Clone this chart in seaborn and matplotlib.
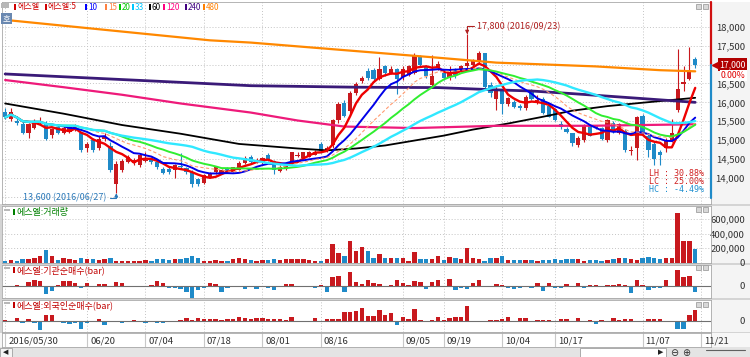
import matplotlib
matplotlib.use("Agg")
import matplotlib.pyplot as plt
from matplotlib.patches import Rectangle
from matplotlib.lines import Line2D
import matplotlib.transforms as mtrans
import numpy as np
import pandas as pd
import seaborn as sns

# ---------------- data ----------------
opens = [15750, 15550, 15500, 15440, 15200, 15330, 15460, 15440, 15130, 15350,
         15200, 15220, 15300, 15180, 14780, 15000, 14800, 15030, 14850, 13850,
         14200, 14430, 14400, 14330, 14460, 14520, 14410, 14250, 14230, 14200,
         14320, 14260, 14150, 13980, 13880, 14030, 14150, 14120, 14250, 14170,
         14220, 14400, 14550, 14430, 14420, 14600, 14450, 14180, 14230, 14400,
         14590, 14530, 14560, 14620, 14900, 14720, 14860, 15520, 15990, 15780,
         16250, 16570, 16830, 16850, 16620, 16950, 16780, 16880, 16670, 16720,
         16780, 17200, 16960, 16450, 16900, 16780, 16680, 16850, 16850, 16950,
         17000, 17100, 17300, 16450, 16100, 16300, 15950, 16000, 15900, 15850,
         16300, 16040, 16100, 15900, 15820, 15440, 15300, 15180, 14860, 15000,
         15390, 15380, 15330, 15000, 15450, 15200, 15250, 14720, 14800, 15650,
         15100, 14900, 14680, 14800, 15000, 15800, 16480, 16620, 17150]
closes = [15600, 15750, 15450, 15200, 15420, 15500, 15480, 15020, 15290, 15200,
          15330, 15350, 15360, 14750, 14900, 14750, 15040, 15080, 14200, 14380,
          14450, 14550, 14470, 14600, 14480, 14420, 14290, 14130, 14150, 14330,
          14280, 14150, 13850, 13830, 14070, 14120, 14280, 14200, 14170, 14280,
          14400, 14540, 14420, 14470, 14520, 14470, 14200, 14300, 14310, 14680,
          14610, 14680, 14690, 14690, 14720, 14800, 15520, 15960, 15650, 16250,
          16490, 16650, 16650, 16620, 16880, 16780, 16880, 16620, 16880, 16950,
          17230, 17000, 16700, 16700, 17020, 16650, 16800, 16720, 16950, 17050,
          17100, 17300, 16400, 16250, 16300, 15950, 16120, 15880, 15850, 16150,
          16100, 16060, 15730, 15620, 15530, 15340, 15220, 14920, 15070, 15390,
          15120, 15330, 15040, 15520, 15250, 15430, 14750, 14740, 15600, 15200,
          14750, 14500, 14600, 15000, 15200, 16350, 16530, 16830, 17000]
highs = [15850, 15850, 15650, 15500, 15450, 15550, 15600, 15500, 15320, 15400,
         15380, 15400, 15420, 15200, 14950, 15050, 15100, 15200, 14950, 14450,
         14500, 14600, 14520, 14650, 14700, 14560, 14450, 14280, 14280, 14380,
         14650, 14300, 14200, 14000, 14100, 14150, 14300, 14250, 14300, 14300,
         14450, 14580, 14600, 14520, 14550, 14650, 14480, 14330, 14350, 14700,
         14700, 14700, 14720, 14750, 14950, 14850, 15550, 16000, 16050, 16300,
         16550, 16700, 16900, 16900, 17200, 17000, 16950, 16900, 16950, 17000,
         17300, 17250, 17000, 17250, 17100, 16850, 16950, 16900, 17000, 17800,
         17150, 17350, 17300, 16550, 16450, 16350, 16150, 16050, 15950, 16200,
         16350, 16200, 16150, 15950, 15850, 15500, 15350, 15200, 15100, 15420,
         15400, 15400, 15350, 15550, 15500, 15450, 15300, 14850, 15650, 15700,
         15150, 14950, 14750, 15050, 15550, 17400, 16950, 17450, 17200]
lows = [15550, 15500, 15400, 15150, 15050, 15300, 15400, 15000, 15050, 15150,
        15150, 15200, 15250, 14700, 14700, 14700, 14750, 14980, 14150, 13600,
        14150, 14400, 14350, 14300, 14420, 14380, 14250, 14100, 14100, 14000,
        14250, 14100, 13750, 13800, 13850, 14000, 14100, 14100, 14150, 14150,
        14200, 14380, 14400, 14400, 14380, 14450, 14100, 14150, 14200, 14380,
        14550, 14500, 14550, 14600, 14650, 14700, 14800, 15450, 15600, 15700,
        16200, 16500, 16600, 16550, 16600, 16700, 16750, 16230, 16600, 16700,
        16750, 16950, 16650, 16400, 16850, 16600, 16600, 16650, 16800, 16900,
        16950, 17050, 16350, 16150, 15800, 15700, 15900, 15850, 15800, 15800,
        16050, 15950, 15700, 15600, 15500, 15300, 15200, 14850, 14820, 14950,
        15100, 15300, 15000, 14950, 15200, 15150, 14700, 14600, 14470, 15150,
        14550, 14350, 14350, 14700, 14950, 15750, 16300, 16600, 16900]
volume_k = [23, 37, 23, 51, 51, 59, 97, 175, 92, 37, 69, 51, 37, 59, 51, 46, 37, 46, 59, 28,
            28, 23, 23, 23, 37, 28, 46, 46, 37, 46, 51, 69, 97, 59, 23, 23, 37, 28, 23, 51,
            69, 46, 37, 23, 37, 37, 46, 37, 46, 55, 51, 55, 37, 28, 23, 51, 252, 138, 97, 299,
            161, 221, 161, 69, 120, 59, 59, 69, 69, 23, 152, 51, 46, 51, 92, 37, 83, 59, 46, 207,
            59, 51, 28, 69, 69, 92, 37, 37, 37, 37, 37, 23, 37, 37, 46, 37, 46, 46, 46, 28,
            37, 37, 23, 37, 46, 59, 59, 51, 37, 59, 73, 59, 51, 59, 69, 690, 299, 299, 184]
inst_k = [-5, -5, 5, -8, 20, 28, 25, -42, -25, 3, 23, 23, 12, -10, 12, -5, 8, 7, -8, 20,
          12, -5, -5, -5, -3, 3, 25, 12, -10, -10, -18, -30, -60, -22, -13, 12, 8, -30, -10, -5,
          -5, -17, -7, -15, -3, -12, -23, -8, 8, 8, -3, -2, -2, -12, 2, -32, 43, 50, -32, 68,
          17, 10, 30, 13, 8, -3, 5, 30, 13, 2, 25, 17, -15, 17, 30, -3, 32, -22, -13, -18,
          15, 28, -3, -5, 7, 2, -13, -18, -10, -8, -10, 12, -25, 12, -13, -13, 7, -5, 12, -13,
          1, 5, -3, 5, 1, 7, 1, -38, 28, 1, -22, -10, -13, 28, -5, 78, 45, 50, -32]
foreign_k = [3, -3, 12, -13, 8, -10, -47, 28, 28, -3, -13, -17, -13, -43, -10, -5, 7, -22, -3, -2,
             -10, -3, 3, -3, -10, -3, -10, -10, -3, -3, 3, 12, 5, 15, 7, 7, 7, 5, 7, 7,
             17, 12, 8, 12, 13, 8, 8, 10, 5, 17, -5, 1, -5, 15, -5, 10, 10, 10, 45, 42,
             50, 63, 22, 22, 55, 30, 38, -20, 17, 10, 58, 5, -3, 5, 18, 5, 12, 20, 20, 73,
             1, -7, -7, 3, 3, 7, 20, -5, 12, 12, -5, 3, 3, 3, -3, 8, 8, -5, 12, -3,
             3, -17, 3, -5, 12, 3, 10, 10, -7, -5, 7, 10, 7, 1, 1, -40, -42, 27, 55]

# long moving averages, read at a few days
ma60_idx = [0, 10, 20, 30, 40, 50, 55, 60, 65, 70, 75, 80, 86, 92, 97, 103, 109, 118]
ma60_val = [15970, 15700, 15400, 15170, 14900, 14780, 14730, 14780, 14860, 14990, 15120,
            15280, 15440, 15620, 15780, 15900, 15990, 16120]
ma120_idx = [0, 10, 20, 30, 42, 50, 58, 70, 84, 100, 118]
ma120_val = [16590, 16400, 16200, 15970, 15730, 15520, 15360, 15320, 15380, 15380, 15420]
ma240_idx = [0, 42, 60, 74, 84, 90, 97, 108, 118]
ma240_val = [16750, 16440, 16400, 16390, 16330, 16300, 16230, 16110, 16000]
ma480_idx = [0, 35, 42, 74, 84, 101, 112, 118]
ma480_val = [18180, 17640, 17580, 17180, 17050, 16950, 16850, 16820]

date_pos = [0, 14, 24, 34, 44, 54, 68, 75, 85, 94, 109, 119]
date_labels = ["2016/05/30", "06/20", "07/04", "07/18", "08/01", "08/16",
               "09/05", "09/19", "10/04", "10/17", "11/07", "11/21"]
legend_labels = ["에스엘", "에스엘:5", "10", "15", "20", "33", "60", "120", "240", "480"]
legend_colors = ["#d00000", "#d00000", "#0000ff", "#ff8040", "#00c800", "#00c8ff",
                 "#000000", "#ff0080", "#400080", "#ff8000"]

# ---------------- figure ----------------
sns.set_style("white")
plt.rcParams["font.family"] = ["Noto Sans CJK KR", "DejaVu Sans"]
plt.rcParams["axes.unicode_minus"] = False

W, H = 750, 357
RED, BLUE = "#c8191e", "#1f8ac8"
fig = plt.figure(figsize=(W / 100, H / 100), dpi=100)
fig.patch.set_facecolor("#d4d4d4")


def box(x0, y0, x1, y1):
    return [x0 / W, 1 - y1 / H, (x1 - x0) / W, (y1 - y0) / H]


def frect(x0, y0, x1, y1, color, z=-1, ec="none"):
    fig.add_artist(Rectangle((x0 / W, 1 - y1 / H), (x1 - x0) / W, (y1 - y0) / H,
                             transform=fig.transFigure, facecolor=color, edgecolor=ec,
                             lw=0.6, zorder=z))


def ftext(x, y, s, **kw):
    fig.text(x / W, 1 - y / H, s, **kw)


# backgrounds
frect(0, 0, 750, 204, "white")
for y0, y1 in [(2, 204), (206, 263), (265, 298), (300, 332)]:
    frect(711, y0, 750, y1, "#f4f4f4")
frect(0, 333, 750, 347, "#f7f7f7")
frect(0, 347, 750, 357, "#e4e4e4")

ax_p = fig.add_axes(box(2, 2, 711, 204))
ax_v = fig.add_axes(box(2, 206, 711, 263), sharex=ax_p)
ax_i = fig.add_axes(box(2, 265, 711, 298), sharex=ax_p)
ax_f = fig.add_axes(box(2, 300, 711, 332), sharex=ax_p)
ax_d = fig.add_axes(box(2, 333, 711, 347), sharex=ax_p)

o, c = np.array(opens), np.array(closes)
hi, lo = np.array(highs), np.array(lows)
idx = np.arange(len(c))
up = c >= o
ccol = np.where(up, RED, BLUE)

for ax in (ax_p, ax_v, ax_i, ax_f, ax_d):
    ax.set_facecolor("white")
    for s in ax.spines.values():
        s.set_color("#a8a8a8")
        s.set_linewidth(0.6)
    ax.set_xticks(date_pos)
    ax.tick_params(axis="x", length=0, labelbottom=False)
    ax.grid(axis="x", color="#c4c4c4", linestyle=(0, (1, 2)), linewidth=0.7)
ax_p.set_xlim(-0.535, 120.7)

# ---- price pane ----
ax_p.vlines(idx, lo, hi, colors=ccol, lw=0.8, zorder=2)
ax_p.bar(idx, np.maximum(np.abs(c - o), 15), bottom=np.minimum(o, c), width=0.72,
         color=ccol, lw=0, zorder=3)

close_s = pd.Series(c, dtype=float)
short_ma = [(5, "#ee0000", 1.7, "-"), (10, "#0000e8", 1.4, "-"),
            (15, "#ff9a70", 0.8, (0, (3, 2))), (20, "#30ee30", 1.4, "-"),
            (33, "#30e8ff", 1.7, "-")]
for n, col, lw, ls in short_ma:
    ma = close_s.rolling(n, min_periods=1).mean()
    sns.lineplot(x=idx, y=ma.values, ax=ax_p, color=col, linewidth=lw, linestyle=ls,
                 legend=False, zorder=5)
for xs, ys, col, lw in [(ma60_idx, ma60_val, "#000000", 1.3),
                        (ma120_idx, ma120_val, "#ee1a7a", 1.6),
                        (ma240_idx, ma240_val, "#3a1a78", 2.0),
                        (ma480_idx, ma480_val, "#ff8800", 1.6)]:
    sns.lineplot(x=xs, y=ys, ax=ax_p, color=col, linewidth=lw, legend=False, zorder=4)

ax_p.set_ylim(13312, 18653)
ax_p.set_xlabel("")
ax_p.set_ylabel("")
ax_p.yaxis.tick_right()
pt = np.arange(13500, 18001, 500)
ax_p.set_yticks(pt)
ax_p.set_yticklabels(["" if v in (13500, 17000) else f"{v:,}" for v in pt])
ax_p.grid(axis="y", color="#c4c4c4", linestyle=(0, (1, 2)), linewidth=0.7)

# high / low annotations
ih, il = int(np.argmax(hi)), int(np.argmin(lo))
ax_p.annotate("17,800 (2016/09/23)", xy=(ih, hi[ih]), xytext=(10, 8),
              textcoords="offset pixels", ha="left", va="center", fontsize=6.5,
              color="#b02020",
              arrowprops=dict(arrowstyle="-|>", color="#b02020", lw=0.8, mutation_scale=5,
                              shrinkA=0, shrinkB=0,
                              connectionstyle="angle,angleA=0,angleB=90,rad=0"))
ax_p.annotate("13,600 (2016/06/27)", xy=(il, lo[il]), xytext=(-10, -5),
              textcoords="offset pixels", ha="right", va="center", fontsize=6.5,
              color="#2a78b8",
              arrowprops=dict(arrowstyle="-|>", color="#2a78b8", lw=0.8, mutation_scale=5,
                              shrinkA=0, shrinkB=0,
                              connectionstyle="angle,angleA=0,angleB=90,rad=0"))

last = c[-1]
lh = (hi.max() / lo.min() - 1) * 100
lc = (last / lo.min() - 1) * 100
hc = (last / hi.max() - 1) * 100
for k, (s, col) in enumerate([(f"LH : {lh:.2f}%", "#d02020"), (f"LC : {lc:.2f}%", "#d02020"),
                              (f"HC : {hc:.2f}%", "#2090d0")]):
    ftext(704, 173 + 8.5 * k, s, ha="right", va="center", fontsize=6, color=col,
          family="DejaVu Sans Mono")

# current price marker
blend = mtrans.blended_transform_factory(ax_p.transAxes, ax_p.transData)
ax_p.plot([1.0, 1.0], [last, 18640], color="#d01010", lw=1.6, transform=blend,
          clip_on=False, zorder=6)
ax_p.plot([1.0, 1.0], [13480, last], color="#1f8ac8", lw=1.6, transform=blend,
          clip_on=False, zorder=6)
ax_p.plot([1.005], [last], marker="<", ms=4, color="#c00000", transform=blend,
          clip_on=False, zorder=7)
ax_p.text(1.049, last, f"{last:,}", transform=blend, ha="right", va="center",
          fontsize=6.3, color="white",
          bbox=dict(boxstyle="square,pad=0.18", fc="#b00000", ec="none"))
ax_p.annotate("0.00%", xy=(1.049, last), xycoords=blend, xytext=(0, -11),
              textcoords="offset pixels", ha="right", va="center", fontsize=6.3,
              color="#e00000", bbox=dict(boxstyle="square,pad=0.15", fc="white", ec="none"))

# ---- volume pane ----
vol = np.array(volume_k) * 1000
ax_v.bar(idx, vol, width=0.75, color=ccol, lw=0)
ax_v.set_ylim(-4000, 782000)
ax_v.yaxis.tick_right()
vt = [0, 200000, 400000, 600000]
ax_v.set_yticks(vt)
ax_v.set_yticklabels([f"{v:,}" for v in vt])
ax_v.grid(axis="y", color="#c4c4c4", linestyle=(0, (1, 2)), linewidth=0.7)

# ---- net buying panes ----
for ax, vals, lims in [(ax_i, np.array(inst_k), (-62.5, 102.5)),
                       (ax_f, np.array(foreign_k), (-56.5, 103.5))]:
    ax.bar(idx, vals, width=0.75, color=np.where(vals >= 0, RED, BLUE), lw=0)
    ax.axhline(0, color="#707070", lw=0.8)
    ax.set_ylim(*lims)
    ax.yaxis.tick_right()
    ax.set_yticks([0])
    ax.set_yticklabels(["0"])

for ax in (ax_p, ax_v, ax_i, ax_f):
    ax.tick_params(axis="y", length=0, pad=24.5, labelsize=6.8, labelcolor="#303030")
    for t in ax.get_yticklabels():
        t.set_ha("right")

# ---- date row ----
ax_d.set_ylim(0, 1)
ax_d.set_yticks([])
ax_d.grid(False)
ax_d.vlines(date_pos, 0, 1, color="#c8c8c8", lw=0.8)
for p, lab in zip(date_pos, date_labels):
    ax_d.annotate(lab, xy=(p, 0.45), xytext=(3, 0), textcoords="offset pixels",
                  ha="left", va="center", fontsize=6.8, color="#303030",
                  annotation_clip=False)

# ---- legend strip and pane titles ----
frect(1, 3, 9, 8, "#b8b8b8", z=5)
lx = [14, 45, 85, 105, 119, 132, 149, 163, 185, 203]
for x, lab, col in zip(lx, legend_labels, legend_colors):
    frect(x, 4, x + 2, 10, col, z=5)
    ftext(x + 3, 7, lab, ha="left", va="center", fontsize=5.8, color=col, zorder=6)
frect(1, 13, 12, 24, "#6a88b0", z=5)
ftext(6.5, 18.5, "호", ha="center", va="center", fontsize=6, color="white", zorder=6)

for y, lab, col in [(212, "에스엘:거래량", "#008000"),
                    (270, "에스엘:기관순매수(bar)", "#c00000"),
                    (305, "에스엘:외국인순매수(bar)", "#c00000")]:
    frect(4, y - 3, 10, y - 1, "#b8b8b8", z=5)
    frect(13, y - 3, 15, y + 3, col, z=5)
    ftext(16, y, lab, ha="left", va="center", fontsize=6.5, color=col, zorder=6)

for y in [4, 207, 265, 302]:
    frect(696, y, 701, y + 5, "#d8d8d8", z=5, ec="#a0a0a0")
    frect(703, y, 708, y + 5, "#d8d8d8", z=5, ec="#a0a0a0")

# scroll strip
frect(0, 348, 12, 357, "#f4f4f4", z=5, ec="#a0a0a0")
ftext(6, 352.5, "◀", ha="center", va="center", fontsize=5, color="#202020",
      family="DejaVu Sans", zorder=6)
frect(580, 348, 666, 357, "white", z=5, ec="#a0a0a0")
ftext(661, 352.5, "▶", ha="center", va="center", fontsize=5, color="#202020",
      family="DejaVu Sans", zorder=6)
ftext(674, 352.5, "⊖", ha="center", va="center", fontsize=7, color="#303030",
      family="DejaVu Sans", zorder=6)
ftext(686, 352.5, "⊕", ha="center", va="center", fontsize=7, color="#303030",
      family="DejaVu Sans", zorder=6)
fig.add_artist(Line2D([706 / W, 745 / W], [1 - 350 / H, 1 - 350 / H],
                      transform=fig.transFigure, color="#606060", lw=0.8))

fig.savefig("out.png", dpi=100)
